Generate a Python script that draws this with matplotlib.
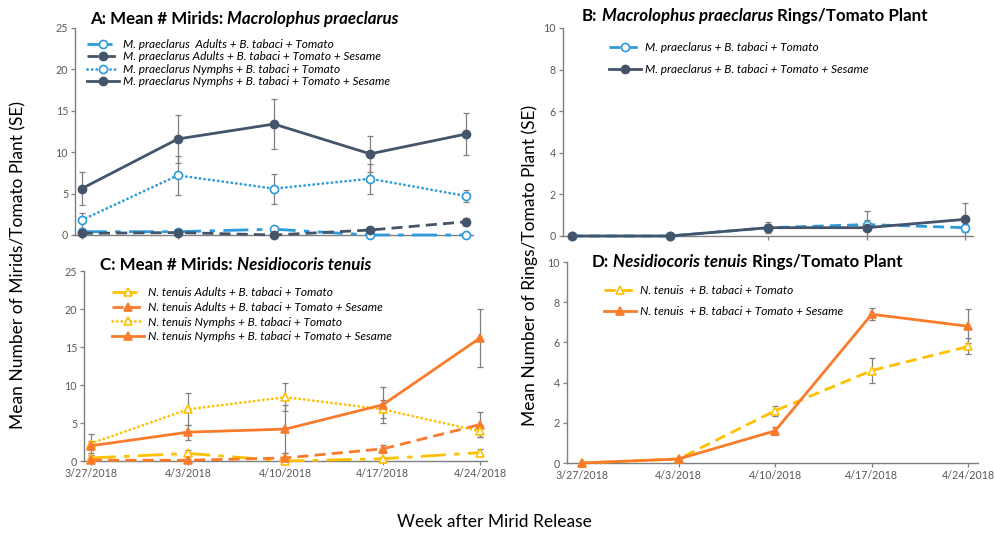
import matplotlib
matplotlib.use("Agg")
import matplotlib.pyplot as plt

# ───── DATA ────────────────────────────────────────────────────
weeks = ["3/27/2018", "4/3/2018", "4/10/2018", "4/17/2018", "4/24/2018"]

# Panel A: Macrolophus praeclarus mirids per plant
mp_adult_tom = [0.4, 0.4, 0.7, 0.0, 0.0]
mp_adult_tom_se = [0.3, 0.2, 0.3, 0.0, 0.0]
mp_adult_ses = [0.2, 0.3, 0.0, 0.6, 1.6]
mp_adult_ses_se = [0.3, 0.2, 0.0, 0.2, 0.5]
mp_nymph_tom = [1.8, 7.2, 5.6, 6.8, 4.7]
mp_nymph_tom_se = [0.9, 2.4, 1.8, 1.8, 0.7]
mp_nymph_ses = [5.6, 11.6, 13.4, 9.8, 12.2]
mp_nymph_ses_se = [2.0, 2.85, 3.0, 2.2, 2.5]

# Panel B: M. praeclarus rings per plant
mp_ring_tom = [0.0, 0.0, 0.4, 0.55, 0.4]
mp_ring_tom_se = [0.0, 0.0, 0.2, 0.2, 0.2]
mp_ring_ses = [0.0, 0.0, 0.4, 0.4, 0.8]
mp_ring_ses_se = [0.0, 0.0, 0.25, 0.8, 0.8]

# Panel C: Nesidiocoris tenuis mirids per plant
nt_adult_tom = [0.4, 1.0, 0.0, 0.3, 1.1]
nt_adult_tom_se = [0.4, 0.4, 0.0, 0.2, 0.5]
nt_adult_ses = [0.1, 0.1, 0.4, 1.6, 4.8]
nt_adult_ses_se = [0.1, 0.2, 0.7, 0.5, 1.6]
nt_nymph_tom = [2.3, 6.8, 8.4, 6.8, 3.9]
nt_nymph_tom_se = [1.3, 2.1, 1.8, 1.2, 0.8]
nt_nymph_ses = [2.0, 3.8, 4.2, 7.4, 16.2]
nt_nymph_ses_se = [0.6, 1.0, 3.2, 2.4, 3.8]

# Panel D: N. tenuis rings per plant
nt_ring_tom = [0.0, 0.2, 2.6, 4.6, 5.8]
nt_ring_tom_se = [0.0, 0.0, 0.25, 0.6, 0.4]
nt_ring_ses = [0.0, 0.2, 1.6, 7.4, 6.8]
nt_ring_ses_se = [0.0, 0.0, 0.2, 0.3, 0.85]
# ───────────────────────────────────────────────────────────────

DARK = "#44546A"
BLUE = "#2D9BDB"
ORANGE = "#F97B2B"
YELLOW = "#FFC000"
GRAY = "#7F7F7F"
TICK = "#595959"

LONG_DASH_DOT = (0, (9, 3, 2, 3))
DASHED = (0, (4, 2.2))
DOTTED = (0, (0.05, 1.6))

plt.rcParams["font.family"] = ["Lato", "DejaVu Sans"]

W, H = 995, 535
fig = plt.figure(figsize=(W / 100, H / 100), dpi=100)


def px_axes(left, right, top, bottom):
    return fig.add_axes([left / W, 1 - bottom / H, (right - left) / W, (bottom - top) / H])


axA = px_axes(75, 473, 28, 235)
axC = px_axes(84, 487, 271, 461)
axB = px_axes(563, 973, 28, 236)
axD = px_axes(567, 978, 262, 463)

x = list(range(len(weeks)))


def series(ax, y, se, color, ls, marker, filled, label, lw=2.0):
    ax.errorbar(x, y, yerr=se, fmt="none", ecolor=GRAY, elinewidth=0.9,
                capsize=2.5, capthick=0.9, zorder=2)
    ax.plot(x, y, color=color, linestyle=ls, linewidth=lw, marker=marker,
            markersize=5.8, markeredgewidth=1.2, markeredgecolor=color,
            markerfacecolor=color if filled else "white",
            dash_capstyle="round" if ls == DOTTED else "butt",
            label=label, zorder=3, clip_on=False)


def style(ax, ymax, ystep, xlabels, xlim):
    ax.set_ylim(0, ymax)
    ax.set_yticks(range(0, ymax + 1, ystep))
    ax.set_xlim(*xlim)
    ax.set_xticks(x)
    if xlabels:
        ax.set_xticklabels(weeks)
    else:
        ax.set_xticklabels([])
    for s in ("top", "right"):
        ax.spines[s].set_visible(False)
    for s in ("left", "bottom"):
        ax.spines[s].set_color(GRAY)
        ax.spines[s].set_linewidth(1.0)
    ax.tick_params(axis="both", colors=GRAY, labelcolor=TICK, labelsize=7.7,
                   length=3, width=0.9, pad=2)
    ax.patch.set_alpha(0)


# Panel A
series(axA, mp_adult_tom, mp_adult_tom_se, BLUE, LONG_DASH_DOT, "o", False,
       r"M. praeclarus  Adults + B. tabaci + Tomato")
series(axA, mp_adult_ses, mp_adult_ses_se, DARK, DASHED, "o", True,
       r"M. praeclarus Adults + B. tabaci + Tomato + Sesame")
series(axA, mp_nymph_tom, mp_nymph_tom_se, BLUE, DOTTED, "o", False,
       r"M. praeclarus Nymphs + B. tabaci + Tomato")
series(axA, mp_nymph_ses, mp_nymph_ses_se, DARK, "-", "o", True,
       r"M. praeclarus Nymphs + B. tabaci + Tomato + Sesame")
style(axA, 25, 5, False, (-0.07, 4.07))

# Panel B
series(axB, mp_ring_tom, mp_ring_tom_se, BLUE, DASHED, "o", False,
       "M. praeclarus + B. tabaci + Tomato")
series(axB, mp_ring_ses, mp_ring_ses_se, DARK, "-", "o", True,
       "M. praeclarus + B. tabaci + Tomato + Sesame")
style(axB, 10, 2, False, (-0.09, 4.08))

# Panel C
series(axC, nt_adult_tom, nt_adult_tom_se, YELLOW, LONG_DASH_DOT, "^", False,
       "N. tenuis Adults + B. tabaci + Tomato")
series(axC, nt_adult_ses, nt_adult_ses_se, ORANGE, DASHED, "^", True,
       "N. tenuis Adults + B. tabaci + Tomato + Sesame")
series(axC, nt_nymph_tom, nt_nymph_tom_se, YELLOW, DOTTED, "^", False,
       "N. tenuis Nymphs + B. tabaci + Tomato")
series(axC, nt_nymph_ses, nt_nymph_ses_se, ORANGE, "-", "^", True,
       "N. tenuis Nymphs + B. tabaci + Tomato + Sesame")
style(axC, 25, 5, True, (-0.07, 4.07))

# Panel D
series(axD, nt_ring_tom, nt_ring_tom_se, YELLOW, DASHED, "^", False,
       "N. tenuis  + B. tabaci + Tomato")
series(axD, nt_ring_ses, nt_ring_ses_se, ORANGE, "-", "^", True,
       "N. tenuis  + B. tabaci + Tomato + Sesame")
style(axD, 10, 2, True, (-0.155, 4.1))


def legend(ax, left, top, spacing):
    ax.legend(loc="upper left", bbox_to_anchor=(left / W, 1 - top / H),
              bbox_transform=fig.transFigure, frameon=False,
              prop={"style": "italic", "size": 8.6}, handlelength=2.7,
              handletextpad=0.3, labelspacing=spacing, borderpad=0,
              borderaxespad=0)


legend(axA, 87, 39, 0.12)
legend(axB, 609, 42, 0.9)
legend(axC, 112, 287, 0.32)
legend(axD, 604, 285, 0.85)


def title(ax, px, py, parts):
    prev = None
    for text, italic in parts:
        kw = dict(weight="bold", size=12.2, color="black",
                  style="italic" if italic else "normal")
        if prev is None:
            prev = ax.text(px / W, 1 - py / H, text, transform=fig.transFigure,
                           va="center", ha="left", **kw)
        else:
            prev = ax.annotate(text, xy=(1, 0), xycoords=prev,
                               xytext=(3, 0), textcoords="offset points",
                               va="bottom", ha="left", annotation_clip=False, **kw)


title(axA, 90, 19, [("A: Mean # Mirids:", False), ("Macrolophus praeclarus", True)])
title(axB, 582, 16, [("B:", False), ("Macrolophus praeclarus", True),
                     ("Rings/Tomato Plant", False)])
title(axC, 100, 265, [("C: Mean # Mirids:", False), ("Nesidiocoris tenuis", True)])
title(axD, 592, 262, [("D:", False), ("Nesidiocoris tenuis", True),
                      ("Rings/Tomato Plant", False)])

fig.text(18 / W, 1 - 265 / H, "Mean Number of Mirids/Tomato Plant (SE)",
         rotation=90, ha="center", va="center", size=12.5)
fig.text(530 / W, 1 - 265 / H, "Mean Number of Rings/Tomato Plant (SE)",
         rotation=90, ha="center", va="center", size=12.5)
fig.text(494 / W, 1 - 522 / H, "Week after Mirid Release",
         ha="center", va="center", size=12.5)

fig.savefig("out.png", dpi=100)
